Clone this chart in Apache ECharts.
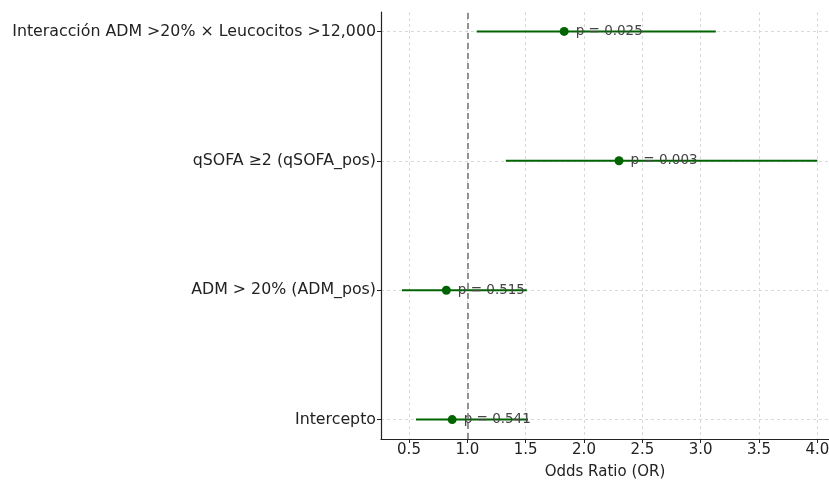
<!DOCTYPE html>
<html>
<head>
<meta charset="utf-8">
<script src="https://cdn.jsdelivr.net/npm/echarts@6/dist/echarts.min.js"></script>
<style>
  html, body { margin: 0; padding: 0; background: #fff; }
  #main { width: 829px; height: 480px; }
</style>
</head>
<body>
<div id="main"></div>
<script>
// forest plot
var categories = ['Intercepto', 'ADM > 20% (ADM_pos)', 'qSOFA ≥2 (qSOFA_pos)', 'Interacción ADM >20% × Leucocitos >12,000'];
var orValues = [0.87, 0.82, 2.30, 1.83];
var ciLow = [0.56, 0.44, 1.33, 1.08];
var ciHigh = [1.52, 1.51, 4.00, 3.13];
var pValues = ['0.541', '0.515', '0.003', '0.025'];
var xTicks = [0.5, 1.0, 1.5, 2.0, 2.5, 3.0, 3.5, 4.0];
var yTicks = [0, 1, 2, 3];

var font = 'DejaVu Sans';
var green = '#006400';

var ciData = [], pointData = [];
for (var i = 0; i < categories.length; i++) {
  ciData.push([ciLow[i], ciHigh[i], i]);
  pointData.push([orValues[i], i, pValues[i]]);
}

var myChart = echarts.init(document.getElementById('main'));
var option = {
  animation: false,
  textStyle: { fontFamily: font },
  grid: { left: 381, right: 0, top: 12, bottom: 41, outerBoundsMode: 'none', containLabel: false },
  xAxis: {
    type: 'value',
    min: 0.26,
    max: 4.1,
    name: 'Odds Ratio (OR)',
    nameLocation: 'middle',
    nameGap: 26,
    nameTextStyle: { fontSize: 15, color: '#222', fontFamily: font },
    axisLine: { show: true, onZero: false, lineStyle: { color: '#222', width: 1.2 } },
    axisTick: { show: true, customValues: xTicks, length: 4, lineStyle: { color: '#222' } },
    axisLabel: {
      customValues: xTicks, fontSize: 15, color: '#222', margin: 4,
      formatter: function (v) { return v.toFixed(1); }
    },
    splitLine: { show: true, lineStyle: { color: '#d0d0d0', type: [3, 3], width: 0.8 } }
  },
  yAxis: {
    type: 'value',
    min: -0.15,
    max: 3.15,
    axisLine: { show: true, onZero: false, lineStyle: { color: '#222', width: 1.2 } },
    axisTick: { show: true, customValues: yTicks, length: 4, lineStyle: { color: '#222' } },
    axisLabel: {
      customValues: yTicks, fontSize: 15.8, color: '#222', margin: 5,
      formatter: function (v) { return categories[Math.round(v)]; }
    },
    splitLine: { show: true, lineStyle: { color: '#d0d0d0', type: [3, 3], width: 0.8 } }
  },
  series: [
    {
      type: 'custom',
      z: 3,
      renderItem: function (params, api) {
        var a = api.coord([api.value(0), api.value(2)]);
        var b = api.coord([api.value(1), api.value(2)]);
        return {
          type: 'line',
          shape: { x1: a[0], y1: a[1], x2: b[0], y2: b[1] },
          style: { stroke: green, lineWidth: 2 }
        };
      },
      encode: { x: [0, 1], y: 2 },
      data: ciData
    },
    {
      type: 'scatter',
      z: 4,
      symbolSize: 9,
      itemStyle: { color: green, opacity: 1 },
      label: {
        show: true,
        position: 'right',
        distance: 7,
        fontSize: 13.5,
        color: '#444',
        fontFamily: font,
        formatter: function (p) { return 'p = ' + p.value[2]; }
      },
      markLine: {
        silent: true,
        symbol: 'none',
        label: { show: false },
        lineStyle: { color: '#888', type: [6, 4], width: 1.8 },
        data: [{ xAxis: 1 }]
      },
      data: pointData
    }
  ]
};
myChart.setOption(option);
</script>
</body>
</html>
